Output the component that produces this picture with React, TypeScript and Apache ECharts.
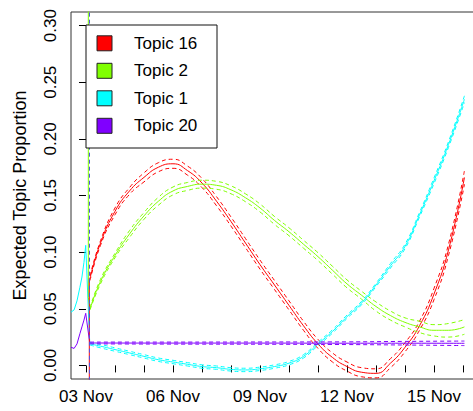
import React, { useEffect, useRef } from "react";
import * as echarts from "echarts";

// x values are days after 03 Nov
const postDays = [0.14, 0.5, 1, 1.5, 2, 2.5, 3, 3.5, 4, 4.5, 5, 5.5, 6, 6.5, 7, 7.5, 8, 8.5, 9, 9.5, 10, 10.5, 11, 11.5, 12, 12.5, 13.05];

const topic16Mean = [0.077, 0.108, 0.136, 0.154, 0.166, 0.175, 0.178, 0.172, 0.161, 0.145, 0.127, 0.108, 0.089, 0.071, 0.053, 0.035, 0.019, 0.007, -0.001, -0.006, -0.007, 0.002, 0.016, 0.035, 0.063, 0.102, 0.166];
const topic16Upper = [0.079, 0.110, 0.139, 0.157, 0.170, 0.179, 0.182, 0.176, 0.165, 0.149, 0.131, 0.112, 0.093, 0.075, 0.057, 0.039, 0.023, 0.011, 0.003, -0.002, -0.003, 0.006, 0.020, 0.039, 0.068, 0.107, 0.172];
const topic16Lower = [0.075, 0.106, 0.133, 0.151, 0.162, 0.171, 0.174, 0.168, 0.157, 0.141, 0.123, 0.104, 0.085, 0.067, 0.049, 0.031, 0.015, 0.003, -0.005, -0.010, -0.011, -0.002, 0.012, 0.031, 0.058, 0.097, 0.160];

const topic2Mean = [0.050, 0.074, 0.097, 0.116, 0.132, 0.145, 0.154, 0.158, 0.160, 0.159, 0.155, 0.148, 0.139, 0.128, 0.118, 0.107, 0.096, 0.084, 0.072, 0.062, 0.052, 0.044, 0.038, 0.034, 0.031, 0.031, 0.034];
const topic2Upper = [0.051, 0.076, 0.099, 0.119, 0.135, 0.1485, 0.1575, 0.1615, 0.1635, 0.1625, 0.1585, 0.1515, 0.1425, 0.1315, 0.1215, 0.1105, 0.0995, 0.0875, 0.0755, 0.0655, 0.056, 0.048, 0.042, 0.039, 0.036, 0.037, 0.0405];
const topic2Lower = [0.049, 0.072, 0.095, 0.113, 0.129, 0.1415, 0.1505, 0.1545, 0.1565, 0.1555, 0.1515, 0.1445, 0.1355, 0.1245, 0.1145, 0.1035, 0.0925, 0.0805, 0.0685, 0.0585, 0.048, 0.040, 0.034, 0.029, 0.026, 0.025, 0.0275];

const topic1Mean = [0.019, 0.017, 0.014, 0.011, 0.008, 0.005, 0.003, 0.001, -0.001, -0.002, -0.0035, -0.004, -0.003, -0.001, 0.002, 0.008, 0.019, 0.030, 0.043, 0.055, 0.071, 0.088, 0.105, 0.133, 0.163, 0.195, 0.235];
const topic1Upper = [0.020, 0.0185, 0.0155, 0.0125, 0.0095, 0.0065, 0.0045, 0.0025, 0.0005, -0.0005, -0.002, -0.0025, -0.0015, 0.0005, 0.0035, 0.0095, 0.0205, 0.0315, 0.0445, 0.0565, 0.0725, 0.090, 0.107, 0.135, 0.1655, 0.1975, 0.238];
const topic1Lower = [0.018, 0.0155, 0.0125, 0.0095, 0.0065, 0.0035, 0.0015, -0.0005, -0.0025, -0.0035, -0.005, -0.0055, -0.0045, -0.0025, 0.0005, 0.0065, 0.0175, 0.0285, 0.0415, 0.0535, 0.0695, 0.086, 0.103, 0.131, 0.1605, 0.1925, 0.232];

const topic20Days = [0.14, 3, 6, 9, 11, 13.05];
const topic20Mean = [0.0198, 0.0197, 0.0197, 0.0196, 0.0196, 0.0195];
const topic20Upper = [0.0206, 0.0206, 0.0207, 0.0208, 0.0212, 0.0215];
const topic20Lower = [0.019, 0.0188, 0.0187, 0.0184, 0.018, 0.0175];

// before the event
const preDays = [-0.517, -0.41, -0.31, -0.21, -0.14, -0.07, -0.01, 0.13];
const topic1Pre = [0.047, 0.049, 0.057, 0.069, 0.078, 0.091, 0.106, 0.019];
const topic20Pre = [0.016, 0.015, 0.019, 0.028, 0.034, 0.040, 0.046, 0.0198];
const topic2PreDays = [0.08, 0.08, 0.14];
const topic2Pre = [0.5, 0.06, 0.050];
const topic16PreDays = [0.114, 0.114];
const topic16Pre = [-0.1, 0.077];

const eventDay = 0.12;

const topicNames = ["Topic 16", "Topic 2", "Topic 1", "Topic 20"];
const topicColors = ["#FF0000", "#80FF00", "#00FFFF", "#8000FF"];

const tickDays = [0, 1, 2, 3, 4, 5, 6, 7, 8, 9, 10, 11, 12, 13];
const labelDays = [0, 3, 6, 9, 12];
const labelTexts = ["03 Nov", "06 Nov", "09 Nov", "12 Nov", "15 Nov"];
const yTicks = [0, 0.05, 0.1, 0.15, 0.2, 0.25, 0.3];

const FONT = "Liberation Sans, Arial, Helvetica, sans-serif";

function zip(xs: number[], ys: number[]) {
  return xs.map((x, i) => [x, ys[i]]);
}

export default function App() {
  const ref = useRef<HTMLDivElement>(null);
  useEffect(() => {
    document.body.style.margin = "0";
    document.body.style.overflow = "hidden";
    document.documentElement.style.overflow = "hidden";
    const chart = echarts.init(ref.current!, null, { renderer: "svg" });

    const series: any[] = [];
    const addBand = (name: string, color: string, xs: number[], mean: number[], up: number[], lo: number[]) => {
      series.push({
        name, type: "line", data: zip(xs, mean), smooth: 0.5, symbol: "none",
        lineStyle: { color, width: 1 }, z: 3,
      });
      [up, lo].forEach((arr) => {
        series.push({
          name: name + " CI", type: "line", data: zip(xs, arr), smooth: 0.5, symbol: "none",
          lineStyle: { color, width: 1, type: [4, 3] }, z: 3,
        });
      });
    };
    const addPlain = (name: string, color: string, xs: number[], ys: number[]) => {
      series.push({
        name, type: "line", data: zip(xs, ys), smooth: false, symbol: "none",
        lineStyle: { color, width: 1 }, z: 3,
      });
    };

    addPlain("pre1", topicColors[2], preDays, topic1Pre);
    addPlain("pre20", topicColors[3], preDays, topic20Pre);
    addPlain("pre2", topicColors[1], topic2PreDays, topic2Pre);
    addPlain("pre16", topicColors[0], topic16PreDays, topic16Pre);

    addBand(topicNames[0], topicColors[0], postDays, topic16Mean, topic16Upper, topic16Lower);
    addBand(topicNames[1], topicColors[1], postDays, topic2Mean, topic2Upper, topic2Lower);
    addBand(topicNames[2], topicColors[2], postDays, topic1Mean, topic1Upper, topic1Lower);
    addBand(topicNames[3], topicColors[3], topic20Days, topic20Mean, topic20Upper, topic20Lower);

    series.push({
      name: "event", type: "line", data: [[eventDay, -0.1], [eventDay, 0.5]], symbol: "none",
      lineStyle: { color: "#5050e0", width: 1, type: [4, 3] }, z: 4,
    });

    const legendBox = { x: 86, y: 25, w: 131, h: 123 };
    const rowH = 27.5;
    const graphic: any[] = [
      {
        type: "rect", z: 100,
        shape: { x: legendBox.x, y: legendBox.y, width: legendBox.w, height: legendBox.h },
        style: { fill: "#fff", stroke: "#111", lineWidth: 1 },
      },
    ];
    topicNames.forEach((n, i) => {
      const cy = legendBox.y + 18.3 + i * rowH;
      graphic.push({
        type: "rect", z: 101,
        shape: { x: 97, y: cy - 7.5, width: 15, height: 15 },
        style: { fill: topicColors[i], stroke: "#222", lineWidth: 1 },
      });
      graphic.push({
        type: "text", z: 101, x: 134, y: cy,
        style: { text: n, fill: "#000", font: `17px ${FONT}`, textVerticalAlign: "middle", verticalAlign: "middle" },
      });
    });

    chart.setOption({
      animation: false,
      backgroundColor: "#fff",
      grid: {
        left: 71, top: 12, width: 421, height: 367,
        show: true, borderColor: "#333", borderWidth: 1, backgroundColor: "transparent",
        containLabel: false,
      },
      xAxis: {
        type: "value", min: -0.517, max: 14,
        axisLine: { show: false },
        splitLine: { show: false },
        axisTick: { show: true, length: 7, lineStyle: { color: "#000" }, customValues: tickDays },
        axisLabel: {
          customValues: labelDays, margin: 9, color: "#000", fontSize: 17, fontFamily: FONT,
          formatter: (v: number) => {
            const k = labelDays.indexOf(Math.round(v));
            return k >= 0 ? labelTexts[k] : "";
          },
        },
      },
      yAxis: {
        type: "value", min: -0.012, max: 0.312,
        name: "Expected Topic Proportion", nameLocation: "middle", nameGap: 42, nameRotate: 90,
        nameTextStyle: { color: "#000", fontSize: 18, fontFamily: FONT },
        axisLine: { show: false },
        splitLine: { show: false },
        axisTick: { show: true, length: 7, lineStyle: { color: "#000" }, customValues: yTicks },
        axisLabel: {
          customValues: yTicks, rotate: 90, margin: 12, color: "#000", fontSize: 17, fontFamily: FONT,
          formatter: (v: number) => v.toFixed(2),
        },
      },
      graphic,
      series,
    });
    return () => chart.dispose();
  }, []);
  return (
    <div style={{ width: 473, height: 411, overflow: "hidden" }}>
      <div ref={ref} style={{ width: 500, height: 411 }} />
    </div>
  );
}
